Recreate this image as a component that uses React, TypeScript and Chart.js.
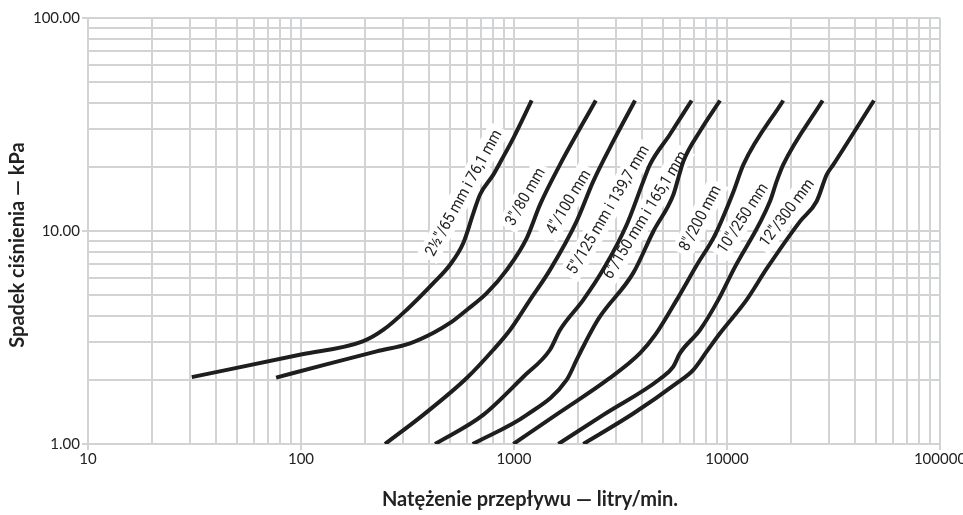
import React, { useEffect, useRef } from "react";
import { Chart, registerables } from "chart.js";

Chart.register(...registerables);

// ---- axis ticks ----
const xMajorValues = [10, 100, 1000, 10000, 100000];
const xTickLabels = ["10", "100", "1000", "10000", "100000"];
const yMajorValues = [1, 10, 100];
const yTickLabels = ["1.00", "10.00", "100.00"];
const minorMultipliers = [1, 2, 3, 4, 5, 6, 7, 8, 9];

const xTitle = "Natężenie przepływu — litry/min.";
const yTitle = "Spadek ciśnienia — kPa";

// ---- series ----
const seriesNames = [
  '2½"/65 mm i 76,1 mm',
  '3"/80 mm',
  '4"/100 mm',
  '5"/125 mm i 139,7 mm',
  '6"/150 mm i 165,1 mm',
  '8"/200 mm',
  '10"/250 mm',
  '12"/300 mm',
];

const flow65 = [30.7, 100, 195, 243, 313, 418, 501, 578, 644, 692, 800, 875, 993, 1211];
const drop65 = [2.06, 2.63, 3.03, 3.43, 4.26, 5.69, 6.94, 8.78, 12.1, 14.8, 18.4, 21.6, 27.3, 41];

const flow80 = [76.4, 130, 226.5, 325, 417, 501, 600, 745, 925, 1148, 1325, 1644, 2421];
const drop80 = [2.05, 2.36, 2.72, 2.97, 3.32, 3.7, 4.26, 5.11, 6.57, 9.27, 13.3, 20.5, 41];

const flow100 = [248, 375, 600, 800, 958, 1189, 1476, 1967, 2355, 2925, 3701];
const drop100 = [1.0, 1.37, 2.04, 2.77, 3.43, 4.75, 6.57, 11.1, 17.1, 26.4, 41];

const flow125 = [426, 717, 1107, 1476, 1644, 2115, 2618, 3381, 4045, 4348, 5383, 6823];
const drop125 = [1.0, 1.37, 2.07, 2.77, 3.43, 4.75, 6.57, 10.7, 17.1, 20.5, 28.3, 41];

const flow150 = [640, 1148, 1767, 1967, 2115, 2323, 2535, 3631, 4508, 5598, 5907, 6234, 7465, 9270];
const drop150 = [1.0, 1.37, 2.0, 2.48, 2.87, 3.43, 3.97, 6.36, 9.95, 14.8, 17.7, 21.2, 29.4, 41];

const flow200 = [993, 1644, 2780, 3908, 4600, 5806, 7228, 8790, 10720, 11940, 18370];
const drop200 = [1.0, 1.41, 2.02, 2.67, 3.25, 4.75, 6.94, 9.6, 15.3, 20.5, 41];

const flow250 = [1615, 2626, 4842, 5598, 6017, 7465, 9100, 10720, 15920, 17100, 18370, 28120];
const drop250 = [1.0, 1.37, 2.02, 2.31, 2.67, 3.43, 4.75, 6.57, 13.8, 17.1, 20.5, 41];

const flow300 = [2115, 3631, 5806, 6950, 8035, 9270, 12360, 15350, 22030, 26360, 29390, 31570, 48980];
const drop300 = [1.0, 1.39, 1.93, 2.23, 2.72, 3.31, 4.75, 6.65, 11.1, 13.8, 18.4, 20.5, 41];

const seriesFlows = [flow65, flow80, flow100, flow125, flow150, flow200, flow250, flow300];
const seriesDrops = [drop65, drop80, drop100, drop125, drop150, drop200, drop250, drop300];

// ---- in-plot curve labels (data coordinates + rotation) ----
const labelFlows = [578, 1127, 1795, 2761, 4121, 7465, 11830, 19060];
const labelDrops = [15.1, 14.5, 13.7, 12.6, 11.9, 11.5, 11.5, 12.2];
const labelAngles = [-61, -60, -59, -59.5, -58.5, -62, -57, -53];

const GRID = "#d2d3d5";
const INK = "#1e1e1e";
const TEXT = "#222222";

function gridValues(majors: number[]) {
  const out: number[] = [];
  majors.forEach((m, i) => {
    if (i === majors.length - 1) {
      out.push(m);
      return;
    }
    minorMultipliers.forEach((k) => out.push(m * k));
  });
  return out;
}

const curveLabelPlugin = {
  id: "curveLabels",
  beforeDatasetsDraw(chart: any) {
    const { ctx, scales } = chart;
    const xs = scales.x;
    const ys = scales.y;
    ctx.save();
    ctx.font = "16px Roboto";
    ctx.textAlign = "center";
    ctx.textBaseline = "middle";
    seriesNames.forEach((name, i) => {
      const px = xs.getPixelForValue(labelFlows[i]);
      const py = ys.getPixelForValue(labelDrops[i]);
      ctx.save();
      ctx.translate(px, py);
      ctx.rotate((labelAngles[i] * Math.PI) / 180);
      ctx.scale(0.9, 1);
      const w = ctx.measureText(name).width;
      ctx.fillStyle = "#ffffff";
      ctx.fillRect(-w / 2 - 5, -11, w + 10, 22);
      ctx.fillStyle = TEXT;
      ctx.fillText(name, 0, 1);
      ctx.restore();
    });
    ctx.restore();
  },
  afterDraw(chart: any) {
    const { ctx, chartArea } = chart;
    ctx.save();
    ctx.fillStyle = TEXT;
    ctx.font = "bold 20px Lato";
    ctx.textAlign = "center";
    // x axis title
    ctx.textBaseline = "alphabetic";
    ctx.fillText(xTitle, (chartArea.left + chartArea.right) / 2 + 16, chartArea.bottom + 62);
    // y axis title
    ctx.translate(18, (chartArea.top + chartArea.bottom) / 2 + 14);
    ctx.rotate(-Math.PI / 2);
    ctx.textBaseline = "middle";
    ctx.fillText(yTitle, 0, 0);
    ctx.restore();
  },
};

export default function App() {
  const ref = useRef<HTMLCanvasElement>(null);

  useEffect(() => {
    if (!ref.current) return;
    const xGrid = gridValues(xMajorValues);
    const yGrid = gridValues(yMajorValues);

    const chart = new Chart(ref.current, {
      type: "line",
      data: {
        datasets: seriesNames.map((name, i) => ({
          label: name,
          data: seriesFlows[i].map((f, j) => ({ x: f, y: seriesDrops[i][j] })),
          borderColor: INK,
          borderWidth: 4,
          pointRadius: 0,
          fill: false,
          cubicInterpolationMode: "monotone" as const,
          borderCapStyle: "butt" as const,
          borderJoinStyle: "round" as const,
        })),
      },
      options: {
        animation: false,
        responsive: false,
        devicePixelRatio: 1,
        layout: { padding: { top: 18, right: 23, left: 0, bottom: 0 } },
        plugins: {
          legend: { display: false },
          tooltip: { enabled: false },
        },
        scales: {
          x: {
            type: "logarithmic",
            min: 10,
            max: 100000,
            afterBuildTicks: (s: any) => {
              s.ticks = xGrid.map((v) => ({ value: v }));
            },
            afterFit: (s: any) => {
              s.height = 71;
              s.paddingLeft = 0;
              s.paddingRight = 0;
            },
            grid: {
              color: GRID,
              lineWidth: 2,
              tickLength: 6,
              tickWidth: 2,
              tickColor: (c: any) =>
                c.tick && xMajorValues.includes(c.tick.value) ? GRID : "rgba(0,0,0,0)",
            },
            border: { color: GRID, width: 2 },
            ticks: {
              autoSkip: false,
              maxRotation: 0,
              padding: 0,
              color: TEXT,
              font: { family: "Lato", size: 15 },
              callback: (v: any) => {
                const i = xMajorValues.indexOf(Number(v));
                return i >= 0 ? xTickLabels[i] : "";
              },
            },
            title: { display: false },
          },
          y: {
            type: "logarithmic",
            min: 1,
            max: 100,
            afterBuildTicks: (s: any) => {
              s.ticks = yGrid.map((v) => ({ value: v }));
            },
            afterFit: (s: any) => {
              s.width = 88;
              s.paddingTop = 0;
              s.paddingBottom = 0;
            },
            grid: {
              color: GRID,
              lineWidth: 2,
              tickLength: 6,
              tickWidth: 2,
              tickColor: (c: any) =>
                c.tick && yMajorValues.includes(c.tick.value) ? GRID : "rgba(0,0,0,0)",
            },
            border: { color: GRID, width: 2 },
            ticks: {
              autoSkip: false,
              padding: 2,
              color: TEXT,
              font: { family: "Lato", size: 15 },
              callback: (v: any) => {
                const i = yMajorValues.indexOf(Number(v));
                return i >= 0 ? yTickLabels[i] : "";
              },
            },
            title: { display: false },
          },
        },
      },
      plugins: [curveLabelPlugin],
    });
    return () => chart.destroy();
  }, []);

  return (
    <div style={{ position: "fixed", left: 0, top: 0, width: 963, height: 515, background: "#ffffff" }}>
      <canvas ref={ref} width={963} height={515} style={{ display: "block" }} />
    </div>
  );
}
